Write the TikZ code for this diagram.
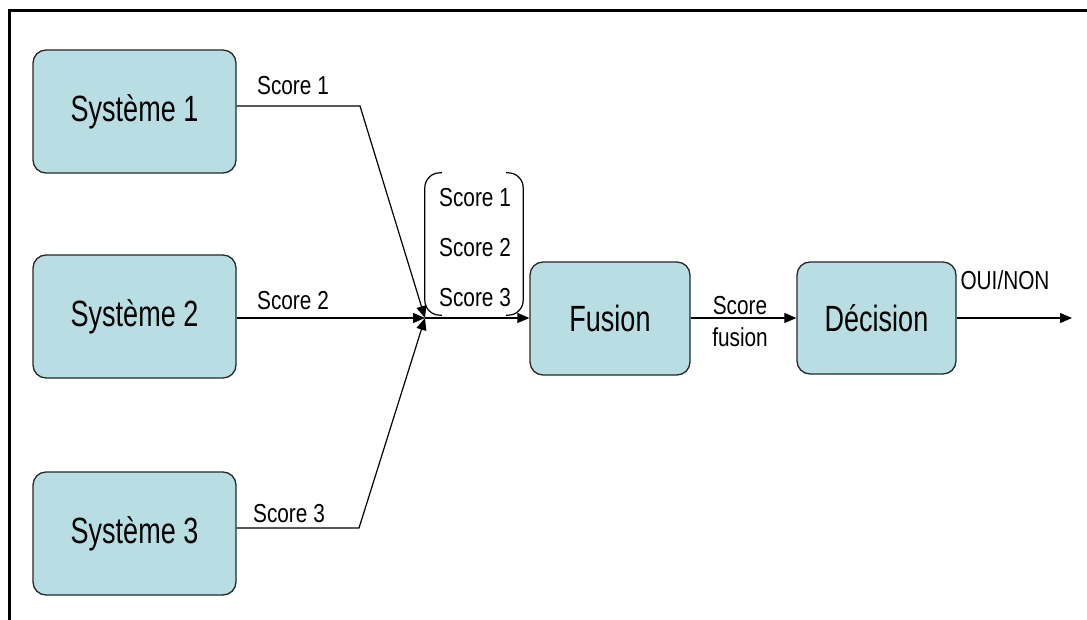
\documentclass[tikz,border=0pt]{standalone}
\usepackage{fontspec}
\setmainfont{Liberation Sans}[FakeStretch=0.8]
\newfontfamily\boxfont{Liberation Sans}[FakeStretch=0.74]
\usetikzlibrary{arrows.meta}
\definecolor{boxfill}{RGB}{184,222,227}
\definecolor{boxline}{RGB}{40,40,40}
\tikzset{
  sysbox/.style={draw=boxline, line width=1.3pt, fill=boxfill, rounded corners=13pt,
    inner sep=0pt, font=\boxfont\fontsize{36.5}{42}\selectfont},
  lbl/.style={font=\fontsize{26}{30}\selectfont, inner sep=0pt, anchor=base},
  wire/.style={line width=1.2pt, draw=black},
  arr/.style={wire, -{Triangle[length=12pt,width=10pt]}},
}
\begin{document}
\begin{tikzpicture}[x=1pt, y=-1pt]
\useasboundingbox (0,0) rectangle (1087,620);
% outer frame (top and left edges)
\draw[line width=2.4pt] (9.5,620) -- (9.5,10.5) -- (1087,10.5);

% systems
\node[sysbox, minimum width=203pt, minimum height=123pt] (s1) at (134.5,111.5) {Système 1};
\node[sysbox, minimum width=203pt, minimum height=123pt] (s2) at (134.5,316.5) {Système 2};
\node[sysbox, minimum width=203pt, minimum height=123pt] (s3) at (134.5,533.5) {Système 3};

% fusion and decision
\node[sysbox, minimum width=160pt, minimum height=113pt] (fu) at (610,318.5) {Fusion};
\node[sysbox, minimum width=159pt, minimum height=112pt] (de) at (876.5,318) {Décision};

% junction and bends
\coordinate (j) at (425,318);
\coordinate (b1) at (360,106);
\coordinate (b3) at (359,528);
\coordinate (out) at (1072,318);

% connectors
\draw[arr] (s1.east |- b1) -- (b1) -- (j);
\draw[arr] (s2.east |- j) -- (j);
\draw[arr] (s3.east |- b3) -- (b3) -- (j);
\draw[arr] (j) -- (fu.west |- j);
\draw[arr] (fu.east |- j) -- (de.west |- j);
\draw[arr] (de.east |- j) -- (out);

% score vector in brackets
\node[minimum width=98pt, minimum height=142pt, inner sep=0pt] (vec) at (474,244) {};
\draw[wire, rounded corners=15pt] ([xshift=17pt]vec.north west) -- (vec.north west) -- (vec.south west) -- ([xshift=17pt]vec.south west);
\draw[wire, rounded corners=15pt] ([xshift=-17pt]vec.north east) -- (vec.north east) -- (vec.south east) -- ([xshift=-17pt]vec.south east);
\node[lbl] (v1) at (475,207) {Score 1};
\node[lbl] (v2) at (475,257) {Score 2};
\node[lbl] (v3) at (475,307) {Score 3};

% wire labels
\node[lbl] (l1) at (293,95) {Score 1};
\node[lbl] (l2) at (293,310) {Score 2};
\node[lbl] (l3) at (289,522) {Score 3};
\node[lbl] (lf1) at (740,315) {Score};
\node[lbl] (lf2) at (740,346) {fusion};
\node[lbl] (lo) at (1005,290) {OUI/NON};
\end{tikzpicture}
\end{document}
